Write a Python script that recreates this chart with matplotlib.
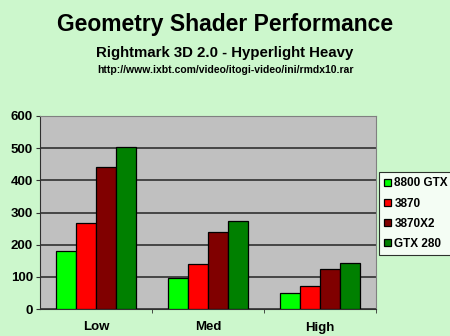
import matplotlib.pyplot as plt
import numpy as np

plt.rcParams['font.family'] = ['Liberation Sans', 'DejaVu Sans']
plt.rcParams['font.weight'] = 'bold'

categories = ['Low', 'Med', 'High']
series = ['8800 GTX', '3870', '3870X2', 'GTX 280']
values = {
    '8800 GTX': [179, 95, 50],
    '3870': [268, 139, 72],
    '3870X2': [440, 238, 124],
    'GTX 280': [503, 274, 144],
}
colors = ['#00ff00', '#ff0000', '#800000', '#008000']
yticks = [0, 100, 200, 300, 400, 500, 600]

bg = '#ccf7cc'
fig = plt.figure(figsize=(4.5, 3.36), dpi=100, facecolor=bg)
ax = fig.add_axes([40 / 450, 1 - 309 / 336, 336 / 450, 193 / 336])
ax.set_facecolor('#c0c0c0')

x = np.arange(len(categories))
w = 0.18
for i, s in enumerate(series):
    ax.bar(x + (i - 1.5) * w, values[s], w, color=colors[i], edgecolor='black',
           linewidth=0.9, label=s, zorder=3)

ax.set_xlim(-0.5, 2.5)
ax.set_ylim(0, 600)
ax.set_yticks(yticks)
ax.yaxis.grid(True, color='#303030', linewidth=1.2, zorder=1)
ax.set_xticks(x)
ax.set_xticklabels(categories, fontsize=9.5, fontweight='bold')
ax.set_xticks([0.5, 1.5, 2.5], minor=True)
ax.tick_params(axis='x', which='major', length=0, pad=9)
ax.tick_params(axis='x', which='minor', length=3, color='#303030')
ax.tick_params(axis='y', length=3, color='#303030', labelsize=9.5, pad=2)
for lab in ax.get_yticklabels():
    lab.set_fontweight('bold')
for sp in ['left', 'bottom']:
    ax.spines[sp].set_color('#303030')
for sp in ['top', 'right']:
    ax.spines[sp].set_color('#808080')

leg = ax.legend(loc='upper left', bbox_to_anchor=(379 / 450, 1 - 172 / 336),
                bbox_transform=fig.transFigure, frameon=True, fancybox=False,
                fontsize=8.5, handlelength=0.55, handleheight=0.55,
                handletextpad=0.3, labelspacing=0.7, borderpad=0.45,
                borderaxespad=0)
leg.get_frame().set_edgecolor('black')
leg.get_frame().set_linewidth(0.8)
for t in leg.get_texts():
    t.set_fontweight('bold')

fig.text(0.5, 1 - 25 / 336, 'Geometry Shader Performance', ha='center', va='center',
         fontsize=16.5, fontweight='bold')
fig.text(0.5, 1 - 53 / 336, 'Rightmark 3D 2.0 - Hyperlight Heavy', ha='center',
         va='center', fontsize=10.8, fontweight='bold')
fig.text(0.5, 1 - 70 / 336, 'http://www.ixbt.com/video/itogi-video/ini/rmdx10.rar',
         ha='center', va='center', fontsize=7.5, fontweight='bold')

fig.savefig('out.png', dpi=100, facecolor=bg)
